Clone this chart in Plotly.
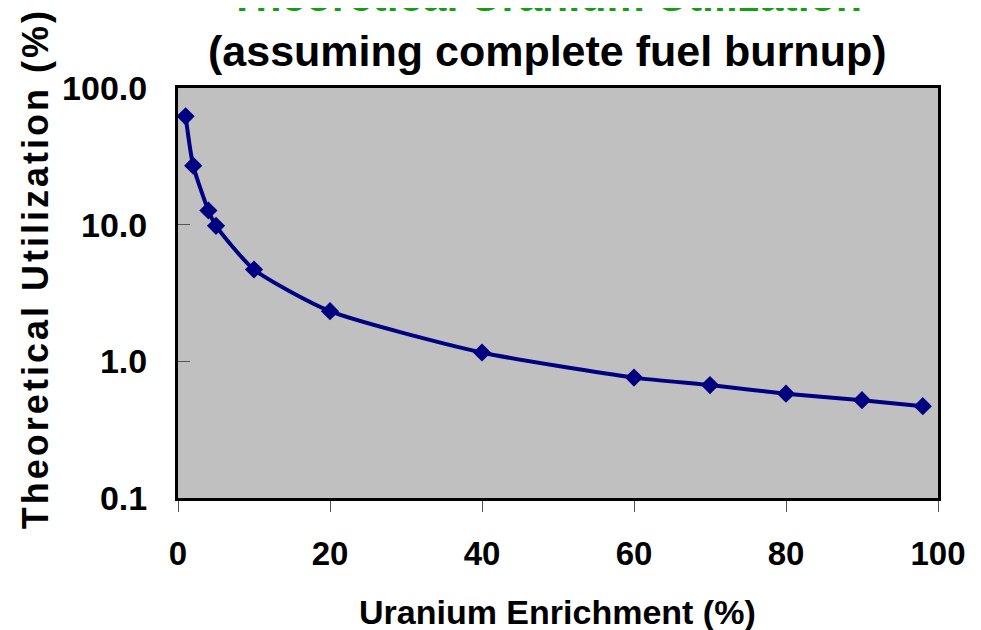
import plotly.graph_objects as go

# values
enrichment = [1, 2, 4, 5, 10, 20, 40, 60, 70, 80, 90, 98]
utilization = [62, 27, 12.7, 9.8, 4.7, 2.33, 1.16, 0.76, 0.67, 0.58, 0.52, 0.47]

x_ticks = [0, 20, 40, 60, 80, 100]
y_ticks = [0.1, 1, 10, 100]
y_tick_text = ['0.1', '1.0', '10.0', '100.0']

navy = '#000080'
font = 'Arial, Liberation Sans, sans-serif'


def spaced(s):
    # the original axis title is letter-spaced
    return '\u200a'.join(s)


fig = go.Figure()
fig.add_trace(go.Scatter(x=enrichment, y=utilization, mode='lines+markers',
                         line=dict(color=navy, width=4, shape='spline', smoothing=0.6),
                         marker=dict(symbol='diamond', size=14, color=navy),
                         showlegend=False))

fig.update_xaxes(range=[0, 100], tickvals=x_ticks, ticks='outside', ticklen=11, tickcolor='#555',
                 tickfont=dict(family=font, size=33, color='black', weight='bold'),
                 ticklabelstandoff=13, showgrid=False, zeroline=False, automargin=False,
                 showline=True, linecolor='black', linewidth=3, mirror=True)
fig.update_yaxes(type='log', range=[-1, 2], tickvals=y_ticks, ticktext=y_tick_text,
                 ticks='inside', ticklen=12, tickcolor='#555',
                 tickfont=dict(family=font, size=34, color='black', weight='bold'),
                 ticklabelstandoff=21, showgrid=False, zeroline=False, automargin=False,
                 showline=True, linecolor='black', linewidth=3, mirror=True)

fig.add_annotation(text=spaced('Theoretical Utilization (%)'), xref='paper', yref='paper',
                   x=-0.188, y=0.556, textangle=-90, showarrow=False,
                   xanchor='center', yanchor='middle',
                   font=dict(family=font, size=36, color='black', weight='bold'))
fig.add_annotation(text='Uranium Enrichment (%)', xref='paper', yref='paper',
                   x=0.499, y=-0.278, showarrow=False, xanchor='center', yanchor='middle',
                   font=dict(family=font, size=34, color='black', weight='bold'))
fig.add_annotation(text='Theoretical Uranium Utilization', xref='paper', yref='paper',
                   x=0.484, y=1.224, showarrow=False, xanchor='center', yanchor='middle',
                   font=dict(family=font, size=43, color='#10A010', weight='bold'))
fig.add_annotation(text='(assuming complete fuel burnup)', xref='paper', yref='paper',
                   x=0.486, y=1.09, showarrow=False, xanchor='center', yanchor='middle',
                   font=dict(family=font, size=43, color='black', weight='bold'))

# page body adds an 8px offset, so the figure is 8px smaller than the window
fig.update_layout(width=973, height=622, margin=dict(l=170, r=43, t=80, b=132),
                  plot_bgcolor='#C0C0C0', paper_bgcolor='white')

fig.write_html('out.html')
